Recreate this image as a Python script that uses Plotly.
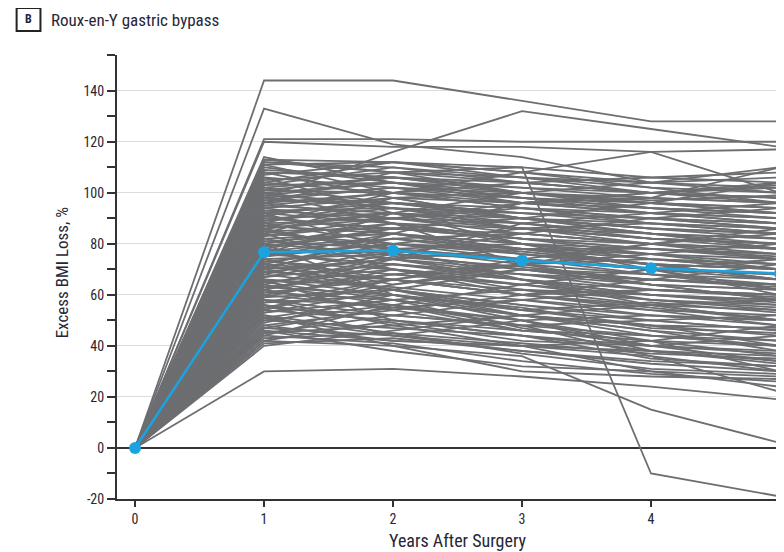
import plotly.graph_objects as go

years = [0, 1, 2, 3, 4, 5]

# Individual patient trajectories: excess BMI loss (%) at years 1..5 (year 0 = 0)
patients = [
    [144, 144, 136, 128, 128],
    [133, 119, 114, 104, 110],
    [121, 121, 120, 120, 120],
    [120, 118, 118, 116, 117],
    [98, 116, 132, 125, 118],
    [112, 108, 110, -10, -19],
    [30, 31, 28, 24, 19],
    [42, 40, 36, 15, 2],
    [113, 112, 106, 100, 103],
    [114, 104, 96, 98, 110],
    [111, 100, 108, 116, 100],
    [41, 43, 38, 33, 30],
    [43, 45, 41, 37, 35],
    [44, 41, 34, 29, 26],
    [45, 52, 48, 44, 42],
    [46, 38, 32, 30, 28],
    [47, 55, 58, 52, 50],
    [48, 42, 40, 38, 33],
    [49, 60, 55, 47, 45],
    [50, 47, 44, 35, 32],
    [51, 58, 62, 60, 57],
    [52, 45, 37, 31, 29],
    [53, 62, 56, 50, 52],
    [54, 50, 46, 44, 40],
    [55, 64, 70, 66, 63],
    [56, 49, 42, 40, 38],
    [57, 66, 60, 56, 54],
    [58, 52, 48, 50, 46],
    [59, 70, 66, 58, 55],
    [60, 55, 50, 42, 36],
    [60, 68, 72, 74, 70],
    [61, 58, 52, 48, 47],
    [62, 72, 68, 62, 60],
    [63, 60, 54, 57, 53],
    [64, 75, 71, 66, 64],
    [65, 58, 47, 40, 37],
    [65, 70, 64, 60, 58],
    [66, 63, 58, 54, 52],
    [67, 76, 74, 70, 68],
    [68, 62, 56, 52, 48],
    [68, 78, 80, 76, 74],
    [69, 66, 60, 62, 59],
    [70, 74, 68, 64, 62],
    [70, 62, 54, 48, 44],
    [71, 80, 77, 72, 70],
    [72, 68, 64, 58, 56],
    [72, 82, 84, 80, 78],
    [73, 70, 66, 62, 60],
    [74, 76, 70, 68, 66],
    [74, 66, 60, 55, 50],
    [75, 84, 80, 74, 72],
    [76, 72, 68, 66, 64],
    [76, 80, 78, 78, 75],
    [77, 70, 62, 58, 54],
    [78, 86, 82, 78, 76],
    [78, 74, 70, 64, 62],
    [79, 82, 76, 72, 70],
    [80, 76, 70, 66, 64],
    [80, 88, 86, 82, 80],
    [81, 78, 74, 70, 68],
    [82, 84, 80, 78, 74],
    [82, 74, 66, 60, 58],
    [83, 90, 88, 84, 82],
    [84, 80, 76, 72, 70],
    [85, 86, 84, 80, 78],
    [85, 78, 72, 68, 64],
    [86, 92, 90, 86, 84],
    [87, 84, 78, 74, 72],
    [88, 90, 86, 84, 80],
    [88, 80, 74, 70, 66],
    [89, 94, 92, 88, 86],
    [90, 86, 82, 80, 76],
    [90, 92, 88, 82, 80],
    [91, 84, 78, 76, 72],
    [92, 96, 94, 90, 88],
    [92, 88, 82, 78, 76],
    [93, 94, 90, 88, 84],
    [94, 88, 80, 74, 70],
    [94, 98, 96, 92, 90],
    [95, 92, 86, 82, 80],
    [96, 100, 98, 94, 92],
    [96, 90, 84, 80, 78],
    [97, 96, 92, 90, 86],
    [98, 94, 88, 84, 82],
    [98, 102, 100, 96, 94],
    [99, 96, 90, 86, 84],
    [100, 104, 100, 98, 96],
    [100, 94, 86, 82, 78],
    [101, 100, 96, 92, 90],
    [102, 106, 104, 100, 98],
    [102, 96, 92, 90, 86],
    [103, 104, 98, 94, 92],
    [104, 100, 94, 92, 88],
    [105, 108, 104, 100, 98],
    [106, 102, 96, 94, 92],
    [108, 106, 102, 98, 96],
    [110, 104, 98, 96, 94],
    [112, 110, 104, 100, 102],
    [113, 108, 100, 97, 99],
    [46, 42, 40, 36, 22],
    [58, 48, 40, 30, 24],
    [64, 56, 46, 42, 30],
    [54, 66, 74, 80, 86],
    [62, 74, 88, 92, 96],
    [70, 84, 96, 100, 104],
    [50, 56, 64, 70, 74],
    [84, 70, 60, 54, 48],
    [92, 78, 66, 56, 50],
    [106, 92, 80, 70, 62],
    [100, 88, 72, 64, 58],
    [80, 60, 52, 46, 42],
    [66, 50, 44, 40, 44],
    [56, 44, 40, 42, 48],
    [76, 92, 100, 104, 106],
    [88, 100, 104, 106, 108],
    [96, 108, 106, 104, 100],
    [84, 98, 90, 96, 104],
    [40, 46, 52, 48, 40],
    [44, 56, 50, 40, 34],
    [62, 54, 60, 66, 72],
    [74, 64, 72, 80, 84],
    [86, 76, 84, 90, 94],
    [108, 98, 90, 84, 78],
    [104, 112, 108, 102, 96],
    [52, 40, 30, 28, 27],
    [42, 50, 44, 38, 36],
    [45, 48, 52, 56, 58],
    [48, 54, 46, 42, 40],
    [51, 44, 50, 52, 50],
    [53, 58, 52, 46, 38],
    [55, 52, 58, 62, 60],
    [57, 60, 54, 50, 46],
    [59, 62, 70, 64, 58],
    [61, 66, 62, 56, 50],
    [63, 68, 64, 70, 74],
    [67, 72, 66, 60, 56],
    [69, 74, 78, 72, 66],
    [71, 66, 72, 76, 80],
    [73, 78, 74, 68, 62],
    [75, 80, 86, 88, 86],
    [77, 82, 78, 72, 66],
    [79, 86, 90, 84, 78],
    [81, 84, 76, 70, 60],
    [83, 88, 82, 76, 70],
    [86, 90, 94, 90, 88],
    [87, 92, 86, 80, 74],
    [89, 96, 90, 86, 82],
    [91, 98, 100, 96, 92],
    [93, 90, 96, 100, 98],
    [95, 100, 94, 88, 84],
    [97, 102, 98, 92, 88],
    [99, 104, 102, 100, 96],
    [101, 106, 100, 94, 90],
    [103, 110, 106, 102, 100],
    [107, 112, 108, 104, 102],
    [109, 106, 100, 96, 92],
    [111, 112, 110, 106, 104],
    [47, 44, 38, 34, 32],
    [58, 56, 48, 36, 30],
    [66, 60, 50, 38, 34],
    [72, 62, 52, 44, 40],
]

mean_values = [0, 76.7, 77.4, 73.5, 70.4, 68.4]

y_ticks = [-20, 0, 20, 40, 60, 80, 100, 120, 140, 154]
y_ticktext = ["-20", "0", "20", "40", "60", "80", "100", "120", "140", ""]
y_minor = [-10, 10, 30, 50, 70, 90, 110, 130]

title_text = "Roux-en-Y gastric bypass"
panel_label = "B"
x_title = "Years After Surgery"
y_title = "Excess BMI Loss, %"

FONT = "Liberation Sans Narrow, Roboto Condensed, Arial Narrow, sans-serif"
TXT = "#262636"

# Page body adds an 8px offset; the figure is sized so it fits the 784x552 window.
OFF = 8
FW, FH = 784 - OFF, 552 - OFF
# plot area in screen pixels: left 117, top 55, width 667, height 444
PL, PT, PW, PH = 117, 55, 667, 444


def px_x(p):
    return (p - PL) / PW


def px_y(p):
    return (PT + PH - p) / PH


xs, ys = [], []
for p in patients:
    xs += years + [None]
    ys += [0] + p + [None]

fig = go.Figure()
fig.add_trace(go.Scatter(
    x=xs, y=ys, mode="lines",
    line=dict(color="#6d6e71", width=1.8),
    hoverinfo="skip", showlegend=False,
))
fig.add_trace(go.Scatter(
    x=years, y=mean_values, mode="lines+markers",
    line=dict(color="#1ba3e0", width=2.5),
    marker=dict(color="#1ba3e0", size=12),
    showlegend=False,
))

fig.update_layout(
    width=FW, height=FH,
    margin=dict(l=PL - OFF, r=FW - (PL - OFF) - PW, t=PT - OFF,
                b=FH - (PT - OFF) - PH),
    paper_bgcolor="white", plot_bgcolor="white",
    font=dict(family=FONT, size=13, color=TXT),
    xaxis=dict(
        range=[-0.14, 5.0], tickmode="array", tickvals=years,
        ticks="outside", ticklen=6, tickwidth=2, tickcolor="#333",
        showline=True, linecolor="#333", linewidth=2,
        showgrid=False, zeroline=False, ticklabeloverflow="allow",
        tickfont=dict(family=FONT, size=14, color=TXT),
    ),
    yaxis=dict(
        range=[-20, 154], tickmode="array", tickvals=y_ticks, ticktext=y_ticktext,
        ticks="outside", ticklen=8, tickwidth=2, tickcolor="#333",
        showline=True, linecolor="#333", linewidth=2,
        showgrid=True, gridcolor="#dcdcdc", gridwidth=1.2,
        zeroline=True, zerolinecolor="#333", zerolinewidth=2,
        tickfont=dict(family=FONT, size=14, color=TXT),
        minor=dict(tickmode="array", tickvals=y_minor, ticks="outside",
                   ticklen=8, tickwidth=2, tickcolor="#333", showgrid=False),
    ),
)

# panel label box
fig.add_shape(
    type="rect", xref="paper", yref="paper",
    x0=px_x(16), x1=px_x(40), y0=px_y(31), y1=px_y(8),
    line=dict(color="#222", width=2), fillcolor="rgba(0,0,0,0)",
)
fig.add_annotation(
    xref="paper", yref="paper", x=px_x(28), y=px_y(19.5),
    text="<b>" + panel_label + "</b>", showarrow=False,
    xanchor="center", yanchor="middle",
    font=dict(family=FONT, size=12, color=TXT),
)
fig.add_annotation(
    xref="paper", yref="paper", x=px_x(49), y=px_y(20),
    text=title_text, showarrow=False, xanchor="left", yanchor="middle",
    font=dict(family=FONT, size=17, color=TXT),
)
fig.add_annotation(
    xref="x", yref="paper", x=2.5, y=px_y(540),
    text=x_title, showarrow=False, xanchor="center", yanchor="middle",
    font=dict(family=FONT, size=18, color=TXT),
)
fig.add_annotation(
    xref="paper", yref="paper", x=px_x(62), y=px_y(273),
    text=y_title, showarrow=False, xanchor="center", yanchor="middle",
    textangle=-90, font=dict(family=FONT, size=17, color=TXT),
)

fig.write_html("out.html")
